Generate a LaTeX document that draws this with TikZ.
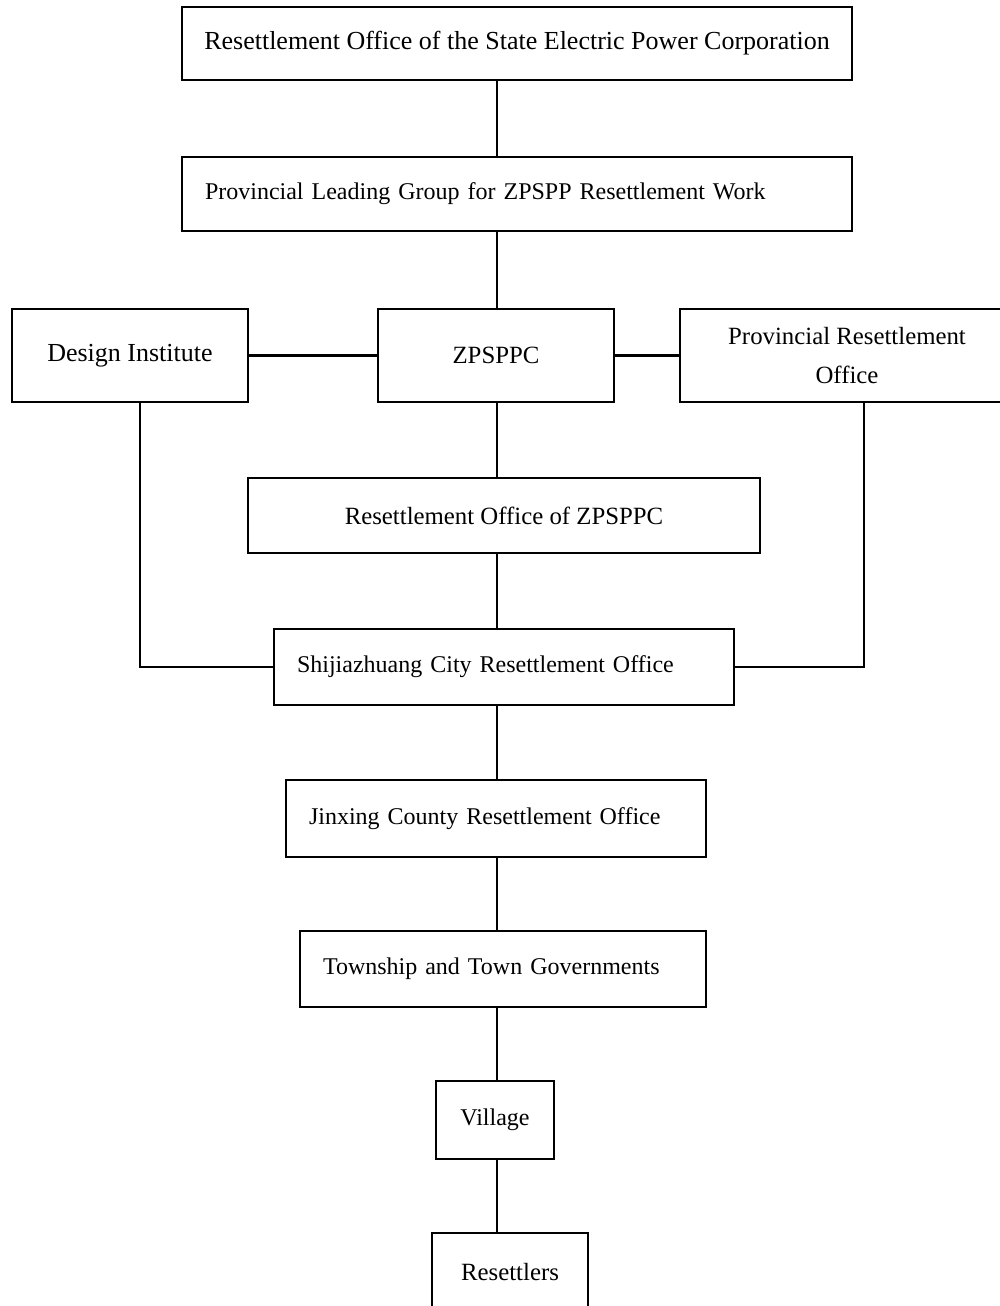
\documentclass[tikz,border=0pt]{standalone}
\usepackage{fontspec}
\setmainfont{Liberation Serif}
\usetikzlibrary{positioning}

\tikzset{
    orgbox/.style={draw, line width=1.3pt, inner sep=0pt, align=center},
    leftbox/.style={draw, line width=1.3pt, inner ysep=0pt, inner xsep=11.5pt,
        align=left, text width=#1},
    link/.style={line width=1.3pt},
    big/.style={font=\fontsize{13pt}{19.5pt}\selectfont},
    mid/.style={font=\fontsize{12.4pt}{19.5pt}\selectfont}
}

\begin{document}
\begin{tikzpicture}[x=1pt,y=1pt,font=\fontsize{12pt}{19.5pt}\selectfont]

    \clip (0,0) rectangle (500,-653);

    \coordinate (spine) at (248.5,0);

    \node[orgbox, big, minimum width=335pt, minimum height=36.5pt] (top) at (258.5,-21.75)
        {Resettlement Office of the State Electric Power Corporation};
    \node[leftbox=312pt, minimum height=37pt] (lead) at (258.5,-97)
        {Provincial Leading Group for ZPSPP Resettlement Work};

    \node[orgbox, big, minimum width=118pt, minimum height=46.5pt] (design) at (65,-177.75)
        {Design Institute};
    \node[orgbox, mid, minimum width=118pt, minimum height=46.5pt] (zpsppc) at (248,-177.75)
        {ZPSPPC};
    \node[orgbox, mid, minimum width=167pt, minimum height=46.5pt] (prov) at (423.5,-177.75)
        {Provincial Resettlement\\Office};

    \node[orgbox, mid, minimum width=256pt, minimum height=37.5pt] (resoff) at (252,-257.75)
        {Resettlement Office of ZPSPPC};
    \node[leftbox=207pt, minimum height=38pt] (city) at (252,-333.5)
        {Shijiazhuang City Resettlement Office};
    \node[leftbox=187pt, minimum height=38.5pt] (county) at (248,-409.25)
        {Jinxing County Resettlement Office};
    \node[leftbox=180pt, minimum height=38pt] (town) at (251.5,-484.5)
        {Township and Town Governments};
    \node[orgbox, minimum width=59pt, minimum height=39pt] (village) at (247.5,-560)
        {Village};
    \node[orgbox, mid, minimum width=78pt, minimum height=38.5pt] (settlers) at (255,-635.75)
        {Resettlers};

    % main chain
    \draw[link] (top.south -| spine) -- (lead.north -| spine);
    \draw[link] (lead.south -| spine) -- (zpsppc.north -| spine);
    \draw[link] (zpsppc.south -| spine) -- (resoff.north -| spine);
    \draw[link] (resoff.south -| spine) -- (city.north -| spine);
    \draw[link] (city.south -| spine) -- (county.north -| spine);
    \draw[link] (county.south -| spine) -- (town.north -| spine);
    \draw[link] (town.south -| spine) -- (village.north -| spine);
    \draw[link] (village.south -| spine) -- (settlers.north -| spine);

    % side branches
    \draw[link] (design.east) -- (zpsppc.west);
    \draw[link] (zpsppc.east) -- (prov.west);
    \draw[link] ([xshift=5pt]design.south) |- (city.west);
    \draw[link] ([xshift=8.5pt]prov.south) |- (city.east);

\end{tikzpicture}
\end{document}
